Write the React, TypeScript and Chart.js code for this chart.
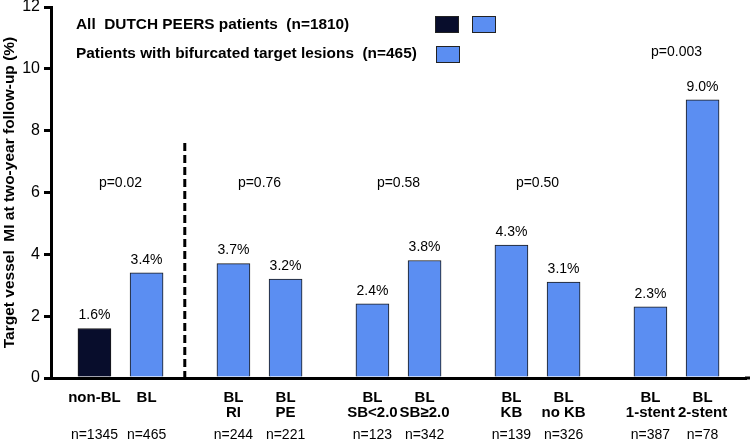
import React, { useEffect, useRef } from "react";
import { Chart, registerables } from "chart.js";

Chart.register(...registerables);

// ---- data ----
const categoryLine1 = ["non-BL", "BL", "BL", "BL", "BL", "BL", "BL", "BL", "BL", "BL"];
const categoryLine2 = ["", "", "RI", "PE", "SB<2.0", "SB\u22652.0", "KB", "no KB", "1-stent", "2-stent"];
const nLabels = ["n=1345", "n=465", "n=244", "n=221", "n=123", "n=342", "n=139", "n=326", "n=387", "n=78"];
const values = [1.6, 3.4, 3.7, 3.2, 2.4, 3.8, 4.3, 3.1, 2.3, 9.0];
const pValues = ["p=0.02", "p=0.76", "p=0.58", "p=0.50", "p=0.003"];
const yTicks = [0, 2, 4, 6, 8, 10, 12];
const legendLines = ["All  DUTCH PEERS patients  (n=1810)", "Patients with bifurcated target lesions  (n=465)"];
const yTitle = "Target vessel  MI at two-year follow-up (%)";

const DARK = "#080d2c";
const BLUE = "#5b8ef2";

// slot layout: 40 category slots, pairs separated by gaps
const SLOTS = 40;
const slotIndex = (i: number) => 2 + Math.floor(i / 2) * 8 + (i % 2) * 3;

const xLabels: (string | string[])[] = Array.from({ length: SLOTS }, () => "");
const x2Labels: string[] = Array.from({ length: SLOTS }, () => "");
const slotData: (number | null)[] = Array.from({ length: SLOTS }, () => null);
const slotColors: string[] = Array.from({ length: SLOTS }, () => BLUE);
values.forEach((v, i) => {
  const s = slotIndex(i);
  xLabels[s] = categoryLine2[i] ? [categoryLine1[i], categoryLine2[i]] : [categoryLine1[i]];
  x2Labels[s] = nLabels[i];
  slotData[s] = v;
  slotColors[s] = i === 0 ? DARK : BLUE;
});

const FONT = "'Liberation Sans', Arial, Helvetica, sans-serif";

const overlayPlugin = {
  id: "overlay",
  afterDraw(chart: any) {
    const ctx = chart.ctx;
    const xs = chart.scales.x;
    const ys = chart.scales.y;
    const meta = chart.getDatasetMeta(0);
    ctx.save();
    // extend x axis line to the canvas edge
    ctx.beginPath();
    ctx.lineWidth = 3;
    ctx.strokeStyle = "#000";
    const y0 = ys.getPixelForValue(0);
    ctx.moveTo(chart.chartArea.right - 1, y0);
    ctx.lineTo(chart.width, y0);
    ctx.stroke();
    // value labels
    ctx.fillStyle = "#000";
    ctx.font = `14px ${FONT}`;
    ctx.textAlign = "center";
    ctx.textBaseline = "middle";
    values.forEach((v, i) => {
      const el = meta.data[slotIndex(i)];
      ctx.fillText(v.toFixed(1) + "%", el.x, el.y - 13);
    });
    // p-values
    pValues.forEach((p, g) => {
      const a = meta.data[slotIndex(g * 2)];
      const b = meta.data[slotIndex(g * 2 + 1)];
      const maxV = Math.max(values[g * 2], values[g * 2 + 1]);
      const yv = Math.max(6.3, maxV + 1.55);
      ctx.fillText(p, (a.x + b.x) / 2, ys.getPixelForValue(yv));
    });
    // dashed separator
    ctx.beginPath();
    ctx.setLineDash([8, 4]);
    ctx.lineWidth = 3;
    ctx.strokeStyle = "#000";
    const dx = xs.getPixelForValue(7.2);
    ctx.moveTo(dx, ys.getPixelForValue(7.6));
    ctx.lineTo(dx, y0);
    ctx.stroke();
    ctx.setLineDash([]);
    // legend
    ctx.font = `bold 15.4px ${FONT}`;
    ctx.textAlign = "left";
    ctx.fillText(legendLines[0], 76, 25);
    ctx.fillText(legendLines[1], 76, 54);
    const box = (x: number, y: number, c: string) => {
      ctx.fillStyle = c;
      ctx.fillRect(x, y, 24, 17);
      ctx.lineWidth = 1;
      ctx.strokeStyle = "#222";
      ctx.strokeRect(x + 0.5, y + 0.5, 23, 16);
    };
    box(435, 16, DARK);
    box(472, 16, BLUE);
    box(436, 46, BLUE);
    ctx.restore();
  },
};

export default function App() {
  const ref = useRef<HTMLCanvasElement | null>(null);
  useEffect(() => {
    document.body.style.margin = "0";
    if (!ref.current) return;
    const chart = new Chart(ref.current, {
      type: "bar",
      data: {
        labels: xLabels,
        datasets: [
          {
            data: slotData,
            backgroundColor: slotColors,
            borderColor: "#1a1a1a",
            borderWidth: 1,
            barThickness: 33,
            skipNull: true,
          } as any,
        ],
      },
      options: {
        animation: false,
        responsive: true,
        maintainAspectRatio: false,
        layout: { padding: { top: 7, right: 4, bottom: 0, left: 0 } },
        plugins: { legend: { display: false }, tooltip: { enabled: false } },
        scales: {
          x: {
            type: "category",
            offset: true,
            weight: 0,
            grid: { display: false, drawTicks: false },
            border: { display: true, color: "#000", width: 3 },
            ticks: {
              autoSkip: false,
              maxRotation: 0,
              minRotation: 0,
              padding: 12,
              color: "#000",
              font: { family: FONT, size: 15, weight: "bold", lineHeight: 1 },
            },
            afterFit: (s: any) => {
              s.height = 45;
              s.paddingLeft = 0;
              s.paddingRight = 0;
            },
          },
          x2: {
            type: "category",
            position: "bottom",
            labels: x2Labels,
            offset: true,
            weight: 1,
            grid: { display: false, drawTicks: false },
            border: { display: false },
            ticks: {
              autoSkip: false,
              maxRotation: 0,
              minRotation: 0,
              padding: 5,
              color: "#000",
              font: { family: FONT, size: 14, lineHeight: 1 },
            },
            afterFit: (s: any) => {
              s.height = 20;
              s.paddingLeft = 0;
              s.paddingRight = 0;
            },
          },
          y: {
            min: 0,
            max: 12,
            afterBuildTicks: (s: any) => {
              s.ticks = yTicks.map((v) => ({ value: v }));
            },
            grid: {
              display: true,
              drawOnChartArea: false,
              drawTicks: true,
              tickLength: 7,
              color: "#000",
              lineWidth: 3,
            },
            border: { display: true, color: "#000", width: 3 },
            ticks: {
              padding: 4,
              color: "#000",
              font: { family: FONT, size: 16 },
            },
            title: {
              display: true,
              text: yTitle,
              color: "#000",
              padding: { top: 0, bottom: 0 },
              font: { family: FONT, size: 15.5, weight: "bold" },
            },
            afterFit: (s: any) => {
              s.width = 51;
              s.paddingTop = 0;
              s.paddingBottom = 0;
            },
          },
        },
      } as any,
      plugins: [overlayPlugin],
    });
    return () => chart.destroy();
  }, []);
  return (
    <div style={{ width: 750, height: 443, position: "relative" }}>
      <canvas ref={ref} />
    </div>
  );
}
